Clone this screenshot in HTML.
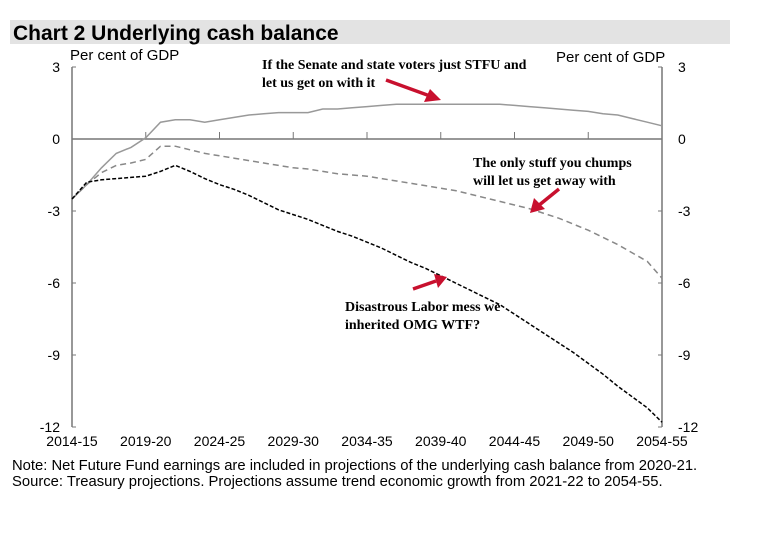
<!DOCTYPE html>
<html><head><meta charset="utf-8"><style>
body{margin:0;background:#fff;width:761px;height:536px;overflow:hidden;font-family:"Liberation Sans",sans-serif}
</style></head><body>
<svg width="761" height="536" font-family="Liberation Sans, sans-serif">
<rect x="10" y="20" width="720" height="24" fill="#e3e3e3"/>
<text x="13" y="40" font-size="21" font-weight="bold">Chart 2 Underlying cash balance</text>
<text x="70" y="60" font-size="15">Per cent of GDP</text>
<text x="556" y="62" font-size="15">Per cent of GDP</text>
<g id="axes"></g>
<g id="series"></g>
<g font-family="Liberation Serif, serif" font-weight="bold" font-size="14">
<text x="262" y="69"><tspan x="262">If the Senate and state voters just STFU and</tspan><tspan x="262" dy="18">let us get on with it</tspan></text>
<text x="473" y="167"><tspan x="473">The only stuff you chumps</tspan><tspan x="473" dy="18">will let us get away with</tspan></text>
<text x="345" y="311"><tspan x="345">Disastrous Labor mess we</tspan><tspan x="345" dy="18">inherited OMG WTF?</tspan></text>
</g>
<g fill="#c8102e" stroke="#c8102e" stroke-width="3.5">
<line x1="386" y1="80" x2="430" y2="96"/><polygon points="441,100 424,102 430,89" stroke="none"/>
<line x1="559" y1="189" x2="538" y2="206"/><polygon points="530,213 534,198 545,209" stroke="none"/>
<line x1="413" y1="289" x2="436" y2="281"/><polygon points="447,277 434,274 438,288" stroke="none"/>
</g>
<text x="12" y="470" font-size="14.8">Note: Net Future Fund earnings are included in projections of the underlying cash balance from 2020-21.</text>
<text x="12" y="486" font-size="14.8">Source: Treasury projections. Projections assume trend economic growth from 2021-22 to 2054-55.</text>
</svg>
<script>
const xLabels=["2014-15","2019-20","2024-25","2029-30","2034-35","2039-40","2044-45","2049-50","2054-55"];
const yTicks=[3,0,-3,-6,-9,-12];
const withPolicy=[-2.5,-1.9,-1.2,-0.6,-0.35,0.05,0.7,0.8,0.8,0.7,0.8,0.9,1.0,1.05,1.1,1.1,1.1,1.25,1.25,1.3,1.35,1.4,1.45,1.45,1.45,1.45,1.45,1.45,1.45,1.45,1.4,1.35,1.3,1.25,1.2,1.15,1.05,1.0,0.85,0.7,0.55];
const currentPolicy=[-2.5,-1.9,-1.4,-1.1,-1.0,-0.85,-0.3,-0.3,-0.45,-0.6,-0.7,-0.8,-0.9,-1.0,-1.1,-1.2,-1.25,-1.35,-1.45,-1.5,-1.55,-1.65,-1.75,-1.85,-1.95,-2.05,-2.15,-2.3,-2.45,-2.6,-2.75,-2.9,-3.1,-3.3,-3.55,-3.8,-4.1,-4.4,-4.75,-5.1,-5.8];
const labor=[-2.5,-1.8,-1.7,-1.65,-1.6,-1.55,-1.35,-1.1,-1.35,-1.65,-1.9,-2.1,-2.35,-2.65,-2.95,-3.15,-3.35,-3.6,-3.85,-4.05,-4.3,-4.55,-4.85,-5.15,-5.4,-5.7,-6.0,-6.3,-6.6,-6.9,-7.3,-7.7,-8.1,-8.5,-8.9,-9.35,-9.8,-10.3,-10.75,-11.2,-11.8];
const NS="http://www.w3.org/2000/svg";
const X0=72,X1=662;
const xs=i=>X0+(X1-X0)*i/40;
const ys=v=>139-24*v;
function mk(tag,attrs,parent){const e=document.createElementNS(NS,tag);for(const k in attrs)e.setAttribute(k,attrs[k]);parent.appendChild(e);return e;}
const ax=document.getElementById('axes');
let l=mk('line',{x1:X0,y1:ys(3),x2:X0,y2:ys(-12),stroke:'#777','stroke-width':1.5},ax);


l=mk('line',{x1:X1,y1:ys(3),x2:X1,y2:ys(-12),stroke:'#777','stroke-width':1.5},ax);


l=mk('line',{x1:X0,y1:ys(0),x2:X1,y2:ys(0),stroke:'#777','stroke-width':1.5},ax);


yTicks.forEach(v=>{
 mk('line',{x1:X0,y1:ys(v),x2:X0+4,y2:ys(v),stroke:'#777'},ax);
 mk('line',{x1:X1-4,y1:ys(v),x2:X1,y2:ys(v),stroke:'#777'},ax);
 let t=mk('text',{x:X0-12,y:ys(v)+5,'font-size':14,'text-anchor':'end'},ax);t.textContent=v;
 
 
 t=mk('text',{x:X1+16,y:ys(v)+5,'font-size':14},ax);t.textContent=v;
 
 
});
xLabels.forEach((s,k)=>{
 const x=xs(k*5);
 if(k>0&&k<8)mk('line',{x1:x,y1:ys(0)-7,x2:x,y2:ys(0),stroke:'#777'},ax);
 let t=mk('text',{x:x,y:446,'font-size':14,'text-anchor':'middle'},ax);t.textContent=s;
 
 
});
const sg=document.getElementById('series');
function line(data,stroke,dash,w,name){
 const p=mk('polyline',{points:data.map((v,i)=>xs(i)+','+ys(v)).join(' '),fill:'none',stroke:stroke,'stroke-width':w,'stroke-dasharray':dash},sg);
 
 
}
line(withPolicy,'#999','none',1.5,'series-with-policy');
line(currentPolicy,'#888','6,4',1.5,'series-current-policy');
line(labor,'#000','4,2',1.5,'series-labor');
</script>
</body></html>
